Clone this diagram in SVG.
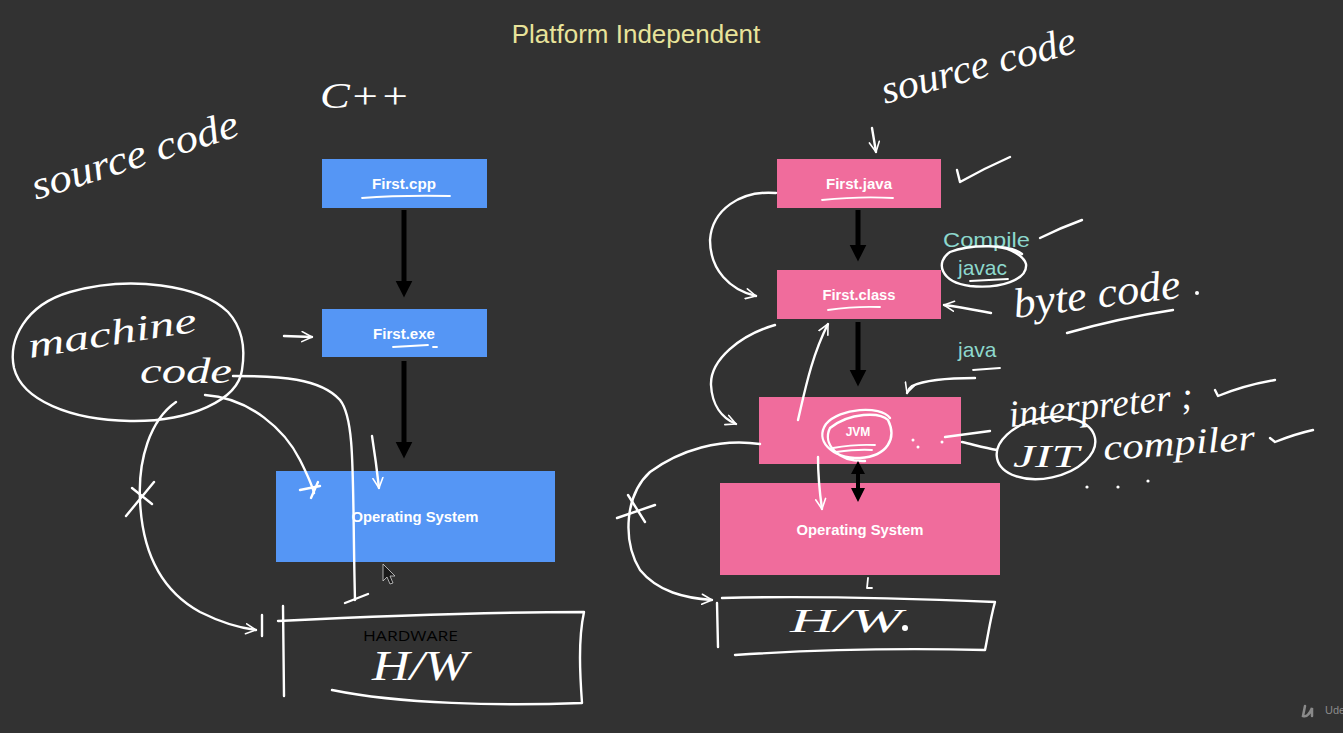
<svg xmlns="http://www.w3.org/2000/svg" width="1343" height="733" viewBox="0 0 1343 733">
  <style>
    .title { font-family: "Liberation Sans", Arial, sans-serif; font-size: 26px; fill: #e8e39a; }
    .step { font-family: "Liberation Sans", Arial, sans-serif; font-size: 21px; fill: #8dd8cd; }
    .box-blue { fill: #5596f5; }
    .box-pink { fill: #f06c9c; }
    .lbl { font-family: "Liberation Sans", Arial, sans-serif; font-size: 14px; font-weight: bold; fill: #ffffff; text-anchor: middle; }
    .lbl-os { font-family: "Liberation Sans", Arial, sans-serif; font-size: 15px; font-weight: bold; fill: #ffffff; text-anchor: middle; }
    .hand { font-family: "Liberation Serif", "Times New Roman", serif; font-style: italic; fill: #ffffff; }
    .ink { fill: none; stroke: #ffffff; stroke-width: 2.4; stroke-linecap: round; stroke-linejoin: round; }
    .ink-thin { fill: none; stroke: #ffffff; stroke-width: 1.8; stroke-linecap: round; stroke-linejoin: round; }
    .flow { stroke: #000000; stroke-width: 5; fill: none; }
  </style>
  <defs>
    <marker id="solid" viewBox="0 0 10 10" refX="2" refY="5" markerWidth="3.4" markerHeight="4" orient="auto" markerUnits="strokeWidth">
      <path d="M0,0 L10,5 L0,10 z" fill="#000000"/>
    </marker>
    <marker id="open" viewBox="0 0 12 12" refX="11" refY="6" markerWidth="5" markerHeight="5" orient="auto" markerUnits="strokeWidth">
      <path d="M1,1 L11,6 L1,11" fill="none" stroke="#ffffff" stroke-width="1.6" stroke-linecap="round" stroke-linejoin="round"/>
    </marker>
  </defs>

  <rect x="0" y="0" width="1343" height="733" fill="#323232"/>

  <text class="title" x="636" y="43" text-anchor="middle">Platform Independent</text>

  <!-- C++ column -->
  <g id="cpp-heading">
    <text class="hand" x="320" y="108" font-size="36" textLength="90" lengthAdjust="spacingAndGlyphs">C++</text>
  </g>
  <g id="left-source-note">
    <text class="hand" x="0" y="0" font-size="40" textLength="215" lengthAdjust="spacingAndGlyphs" transform="translate(36,200) rotate(-17.5)">source code</text>
  </g>
  <g id="first-cpp">
    <rect class="box-blue" x="322" y="159" width="165" height="49"/>
    <text class="lbl" x="404" y="189" textLength="64" lengthAdjust="spacingAndGlyphs">First.cpp</text>
    <path class="ink-thin" d="M362,198 Q400,195 450,196"/>
  </g>
  <g id="first-exe">
    <rect class="box-blue" x="322" y="309" width="165" height="48"/>
    <text class="lbl" x="404" y="339" textLength="62" lengthAdjust="spacingAndGlyphs">First.exe</text>
    <path class="ink-thin" d="M393,347 L428,345 M433,347 L437,347"/>
  </g>
  <g id="os-left">
    <rect class="box-blue" x="276" y="471" width="279" height="91"/>
    <text class="lbl-os" x="415" y="522" textLength="127" lengthAdjust="spacingAndGlyphs">Operating System</text>
  </g>
  <g id="machine-code">
    <path class="ink" d="M228,312 C200,285 130,275 70,292 C25,305 8,340 14,368 C22,400 70,420 130,421 C190,422 238,400 242,370 C246,345 240,325 228,312"/>
    <text class="hand" x="0" y="0" font-size="36" textLength="170" lengthAdjust="spacingAndGlyphs" transform="translate(30,358) rotate(-9)">machine</text>
    <text class="hand" x="140" y="383" font-size="36" textLength="92" lengthAdjust="spacingAndGlyphs">code</text>
  </g>
  <g id="hw-left">
    <path class="ink" d="M283,606 L284,696"/>
    <path class="ink" d="M278,621 C380,616 480,612 584,612 C578,640 580,675 582,703 C500,706 400,704 332,690"/>
    <text class="hand" x="372" y="680" font-size="42" textLength="96" lengthAdjust="spacingAndGlyphs">H/W</text>
    <text x="363" y="641" font-family="'Open Sans', 'Noto Sans', sans-serif" font-size="15" fill="#000000" textLength="95" lengthAdjust="spacingAndGlyphs">HARDWARE</text>
  </g>

  <!-- Java column -->
  <g id="right-source-note">
    <text class="hand" x="0" y="0" font-size="40" textLength="200" lengthAdjust="spacingAndGlyphs" transform="translate(885,104) rotate(-15)">source code</text>
  </g>
  <g id="first-java">
    <rect class="box-pink" x="777" y="159" width="164" height="49"/>
    <text class="lbl" x="859" y="189" textLength="66" lengthAdjust="spacingAndGlyphs">First.java</text>
    <path class="ink-thin" d="M822,200 Q860,196 893,198"/>
  </g>
  <g id="first-class">
    <rect class="box-pink" x="777" y="270" width="164" height="49"/>
    <text class="lbl" x="859" y="300" textLength="73" lengthAdjust="spacingAndGlyphs">First.class</text>
    <path class="ink-thin" d="M828,310 Q855,306 880,307"/>
  </g>
  <g id="jvm">
    <rect class="box-pink" x="759" y="397" width="202" height="67"/>
    <text x="858" y="436" font-family="'Liberation Sans', Arial, sans-serif" font-size="12" font-weight="bold" fill="#ffffff" text-anchor="middle">JVM</text>
    <path class="ink-thin" d="M833,448 Q855,444 875,445 M836,452 Q858,449 872,450"/>
    <path class="ink" d="M890,418 C880,405 840,408 826,424 C815,440 830,458 860,458 C888,456 897,438 888,420 C880,412 850,412 830,428 C822,444 838,462 865,461"/>
    <circle cx="913" cy="440" r="1.5" fill="#ffffff"/>
    <circle cx="918" cy="447" r="1.5" fill="#ffffff"/>
    <circle cx="942" cy="442" r="1.5" fill="#ffffff"/>
  </g>
  <g id="os-right">
    <rect class="box-pink" x="720" y="483" width="280" height="92"/>
    <text class="lbl-os" x="860" y="535" textLength="127" lengthAdjust="spacingAndGlyphs">Operating System</text>
    <path class="ink-thin" d="M868,578 L867,588 L872,588"/>
  </g>
  <g id="hw-right">
    <path class="ink" d="M717,603 L718,647"/>
    <path class="ink" d="M722,598 C800,596 900,598 995,602 C990,620 988,636 985,650 C900,648 810,650 735,655"/>
    <text class="hand" x="790" y="632" font-size="34" textLength="112" lengthAdjust="spacingAndGlyphs">H/W</text>
    <circle cx="905" cy="628" r="3" fill="#ffffff"/>
  </g>

  <g id="java-notes">
    <text class="step" x="943" y="247" textLength="87" lengthAdjust="spacingAndGlyphs">Compile</text>
    <text class="step" x="958" y="275">javac</text>
    <path class="ink" d="M1022,254 C1010,244 970,244 950,252 C935,262 940,282 970,286 C1000,289 1028,280 1026,264 C1024,256 1010,248 998,247"/>
    <path class="ink-thin" d="M970,281 L1008,279"/>
    <text class="step" x="958" y="357">java</text>
    <path class="ink-thin" d="M973,370 L1000,368"/>
    <text class="hand" x="0" y="0" font-size="42" textLength="168" lengthAdjust="spacingAndGlyphs" transform="translate(1015,318) rotate(-7)">byte code</text>
    <circle cx="1197" cy="293" r="2" fill="#ffffff"/>
    <path class="ink" d="M1067,333 Q1120,318 1173,310"/>
    <text class="hand" x="0" y="0" font-size="38" textLength="185" lengthAdjust="spacingAndGlyphs" transform="translate(1010,427) rotate(-6)">interpreter ;</text>
    <ellipse class="ink" cx="1046" cy="448" rx="50" ry="30" transform="rotate(-12 1046 448)"/>
    <text class="hand" x="1013" y="467" font-size="32" textLength="66" lengthAdjust="spacingAndGlyphs">JIT</text>
    <text class="hand" x="0" y="0" font-size="36" textLength="152" lengthAdjust="spacingAndGlyphs" transform="translate(1104,460) rotate(-4)">compiler</text>
    <circle cx="1087" cy="487" r="1.6" fill="#ffffff"/>
    <circle cx="1118" cy="487" r="1.6" fill="#ffffff"/>
    <circle cx="1148" cy="481" r="1.6" fill="#ffffff"/>
    <!-- tick marks -->
    <path class="ink" d="M957,170 L960,182 Q985,168 1010,157"/>
    <path class="ink" d="M1040,238 Q1060,228 1082,220"/>
    <path class="ink" d="M1215,390 L1218,396 Q1245,385 1275,380"/>
    <path class="ink" d="M1270,438 L1275,442 Q1295,434 1313,430"/>
  </g>

  <!-- connectors -->
  <g id="connectors">
    <!-- black flow arrows -->
    <line class="flow" x1="404" y1="210" x2="404" y2="284" marker-end="url(#solid)"/>
    <line class="flow" x1="404" y1="361" x2="404" y2="445" marker-end="url(#solid)"/>
    <line class="flow" x1="858" y1="210" x2="858" y2="248" marker-end="url(#solid)"/>
    <line class="flow" x1="858" y1="322" x2="858" y2="373" marker-end="url(#solid)"/>
    <!-- two-way link JVM / OS -->
    <line x1="858" y1="470" x2="858" y2="492" stroke="#000000" stroke-width="4"/>
    <path d="M851,474 L858,461 L865,474 Z M851,488 L858,502 L865,488 Z" fill="#000000"/>

    <!-- C++ side ink -->
    <path class="ink" d="M284,336 L312,337" marker-end="url(#open)"/>
    <path class="ink" d="M233,376 C280,376 320,378 340,400 C356,420 352,480 355,600"/>
    <path class="ink" d="M345,603 L368,594"/>
    <path class="ink" d="M205,395 C250,398 285,430 300,460 C308,476 312,485 314,493"/>
    <path class="ink" d="M300,490 L320,486 M311,498 L318,482"/>
    <path class="ink" d="M372,436 C375,455 377,470 379,488" marker-end="url(#open)"/>
    <path class="ink" d="M176,402 C150,420 138,460 140,500 C142,550 160,590 200,612 C220,622 240,628 256,630" marker-end="url(#open)"/>
    <path class="ink" d="M262,615 L262,636"/>
    <path class="ink" d="M126,516 L154,482 M132,488 L152,504"/>

    <!-- Java side ink -->
    <path class="ink" d="M872,128 L876,152" marker-end="url(#open)"/>
    <path class="ink" d="M776,193 C740,190 712,210 710,240 C710,270 730,290 756,296" marker-end="url(#open)"/>
    <path class="ink" d="M775,325 C740,335 710,360 711,385 C712,405 722,418 736,424" marker-end="url(#open)"/>
    <path class="ink" d="M798,420 C805,390 812,355 828,324" marker-end="url(#open)"/>
    <path class="ink" d="M818,457 C818,475 820,495 822,509" marker-end="url(#open)"/>
    <path class="ink" d="M760,444 C720,438 680,450 650,472 C625,495 622,540 640,570 C658,592 685,598 712,600" marker-end="url(#open)"/>
    <path class="ink" d="M617,518 L655,505 M628,495 L645,522"/>
    <path class="ink" d="M991,313 C975,310 960,307 944,305" marker-end="url(#open)"/>
    <path class="ink" d="M975,378 C950,378 925,380 912,386 C909,388 908,390 907,393" marker-end="url(#open)"/>
    <path class="ink" d="M945,437 L990,431"/>
    <path class="ink" d="M962,442 C975,445 985,448 997,450"/>
  </g>

  <!-- pointer -->
  <g id="cursor">
    <path d="M383,564 L383,581 L387,577 L390,584 L393,583 L390,576 L395,576 Z" fill="#1a1a1a" stroke="#cfcfcf" stroke-width="0.8"/>
  </g>

  <!-- brand mark -->
  <g id="brand">
    <path d="M1305,706 L1303,716 Q1308,718 1312,708 L1312,716" fill="none" stroke="#8a8a8a" stroke-width="2.5" stroke-linecap="round"/>
    <text x="1325" y="714" font-family="'Liberation Sans', Arial, sans-serif" font-size="11" fill="#8a8a8a">Ude</text>
  </g>
</svg>
